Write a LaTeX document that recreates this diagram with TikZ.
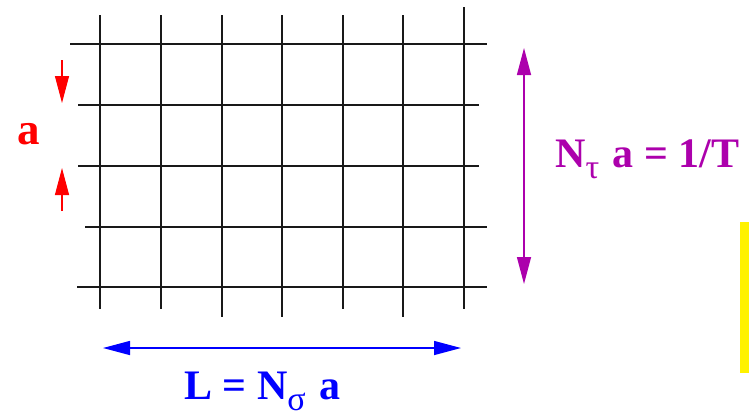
\documentclass[tikz,border=0pt]{standalone}
\usepackage{fontspec}
\setmainfont{Liberation Serif}
\usetikzlibrary{arrows.meta}
\definecolor{lred}{RGB}{255,0,0}
\definecolor{lblue}{RGB}{0,0,255}
\definecolor{lmag}{RGB}{172,0,172}
\definecolor{lyel}{RGB}{255,242,0}
\tikzset{
  gridline/.style={line width=1.6pt, black!90},
  dimarrow/.style={line width=1.4pt, -{Triangle[length=27pt,width=14pt]}},
  dimboth/.style={line width=1.4pt, {Triangle[length=27pt,width=14pt]}-{Triangle[length=27pt,width=14pt]}},
  lbl/.style={anchor=base west, inner sep=0pt, font=\fontsize{42}{42}\bfseries\selectfont}
}
\newcommand{\lsub}[1]{\raisebox{-11pt}{\fontsize{34}{34}\mdseries\selectfont #1}\hspace{3pt}}
\begin{document}
\begin{tikzpicture}[x=1pt,y=-1pt]
\useasboundingbox (0,0) rectangle (749,416);
% grid: vertical lines
\draw[gridline] (100,15) -- (100,309);
\draw[gridline] (161,15) -- (161,309);
\draw[gridline] (222,15) -- (222,317);
\draw[gridline] (282,15) -- (282,317);
\draw[gridline] (343,15) -- (343,309);
\draw[gridline] (403,15) -- (403,317);
\draw[gridline] (464,7) -- (464,309);
% grid: horizontal lines
\draw[gridline] (70,44) -- (487,44);
\draw[gridline] (78,105) -- (479,105);
\draw[gridline] (78,166) -- (479,166);
\draw[gridline] (85,227) -- (487,227);
\draw[gridline] (77,287) -- (487,287);
% red spacing arrows
\coordinate (ra1) at (62,60);
\coordinate (ra2) at (62,103);
\coordinate (rb1) at (62,211);
\coordinate (rb2) at (62,168);
\draw[dimarrow, lred, line width=1.2pt] (ra1) -- (ra2);
\draw[dimarrow, lred, line width=1.2pt] (rb1) -- (rb2);
\node[lbl, text=lred, font=\fontsize{45}{45}\bfseries\selectfont] (alabel) at (17,144) {a};
% magenta vertical extent
\coordinate (mt) at (524,48);
\coordinate (mb) at (524,284);
\draw[dimboth, lmag] (mt) -- (mb);
\node[lbl, text=lmag] (tlabel) at (555,167) {N\lsub{τ} a = 1/T};
% blue horizontal extent
\coordinate (bl) at (103,348);
\coordinate (br) at (461,348);
\draw[dimboth, lblue] (bl) -- (br);
\node[lbl, text=lblue] (llabel) at (184,399) {L = N\lsub{σ} a};
% yellow bar
\fill[lyel] (740,222) rectangle (749,373);
\end{tikzpicture}
\end{document}
